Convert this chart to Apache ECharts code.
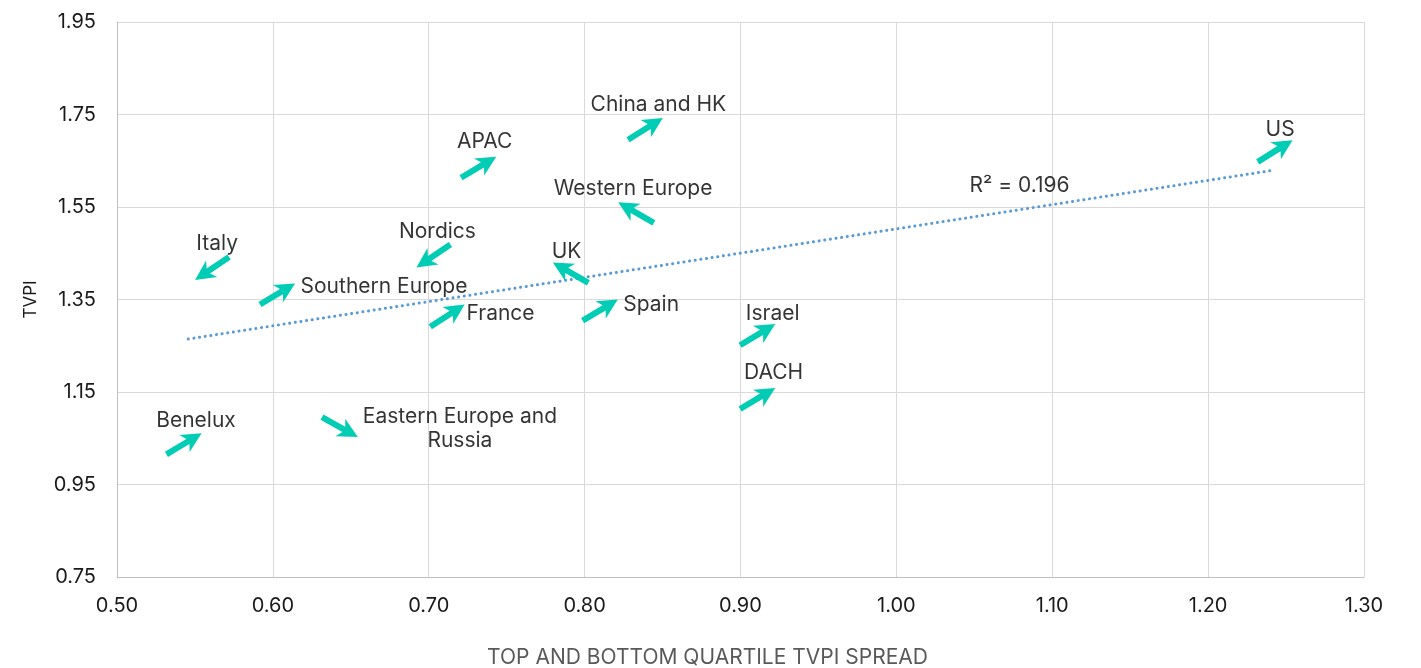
<!DOCTYPE html>
<html><head><meta charset="utf-8">
<script src="https://cdn.jsdelivr.net/npm/echarts@6/dist/echarts.min.js"></script>
<style>html,body{margin:0;padding:0;background:#fff}#c{width:1421px;height:668px}</style>
</head><body><div id="c"></div>
<script>
// ---- data ----
const regions = ['Italy','Nordics','Southern Europe','France','Benelux','Eastern Europe and\nRussia','APAC','China and HK','Western Europe','UK','Spain','Israel','DACH','US'];
const spread  = [0.561, 0.703, 0.603, 0.712, 0.543, 0.643, 0.732, 0.839, 0.833, 0.791, 0.810, 0.911, 0.911, 1.243];
const tvpi    = [1.417, 1.444, 1.362, 1.315, 1.038, 1.074, 1.636, 1.719, 1.538, 1.408, 1.327, 1.274, 1.136, 1.671];
// arrow direction (degrees, counter-clockwise from pointing right)
const arrowAngle = [214, 214, 31, 33, 31, -29, 31, 32, 150, 150, 31, 31, 31, 32];
const trendX = [0.5457, 1.2429];
const trendY = [1.2646, 1.630];
const r2Label = 'R² = 0.196';
const r2At = [1.079, 1.5954];
const xAxisTitle = 'TOP AND BOTTOM QUARTILE TVPI SPREAD';
const yAxisTitle = 'TVPI';

// ---- label placement (style) ----
const labelPlace = {
  'Italy': [5,-25,'center'],
  'Nordics': [4,-24,'center'],
  'Southern Europe': [23,-7,'left'],
  'France': [19,-2,'left'],
  'Benelux': [12,-23,'center'],
  'Eastern Europe and\nRussia': [120,2,'center'],
  'APAC': [6,-26,'center'],
  'China and HK': [13,-24,'center'],
  'Western Europe': [-3,-24,'center'],
  'UK': [-4,-21,'center'],
  'Spain': [23,-5,'left'],
  'Israel': [15,-21,'center'],
  'DACH': [16,-26,'center'],
  'US': [5,-21,'center']
};

const arrowPath = 'path://M0,7 L25,7 L21,0 L41,10 L21,20 L25,13 L0,13 Z';
const teal = '#00CDB4';
const FONT = 'Inter';

const arrowData = regions.map((r,i)=>({
  value:[spread[i], tvpi[i]],
  symbolRotate: arrowAngle[i]
}));
const labelData = regions.map((r,i)=>{
  const p = labelPlace[r];
  return {
    value:[spread[i], tvpi[i]],
    label:{show:true, formatter:r, position:[p[0],p[1]], align:p[2], verticalAlign:'middle'}
  };
});

const chart = echarts.init(document.getElementById('c'));
chart.setOption({
  animation:false,
  grid:{left:117, right:57, top:22, bottom:91, containLabel:false, outerBoundsMode:'none'},
  xAxis:{
    type:'value', min:0.5, max:1.3, interval:0.1,
    name:xAxisTitle, nameLocation:'middle', nameGap:70,
    nameTextStyle:{color:'#595959', fontSize:21, fontFamily:FONT, padding:[0,66,0,0]},
    axisLine:{show:true, lineStyle:{color:'#bfbfbf', width:1}},
    axisTick:{show:false},
    axisLabel:{formatter:v=>v.toFixed(2), color:'#1a1a1a', fontSize:20, fontFamily:FONT, margin:19},
    splitLine:{show:true, lineStyle:{color:'#d9d9d9', width:1}}
  },
  yAxis:{
    type:'value', min:0.75, max:1.95, interval:0.2,
    name:yAxisTitle, nameLocation:'middle', nameGap:78,
    nameTextStyle:{color:'#1a1a1a', fontSize:17, fontFamily:FONT},
    axisLine:{show:true, lineStyle:{color:'#bfbfbf', width:1}},
    axisTick:{show:false},
    axisLabel:{formatter:v=>v.toFixed(2), color:'#1a1a1a', fontSize:20, fontFamily:FONT, margin:21},
    splitLine:{show:true, lineStyle:{color:'#d9d9d9', width:1}}
  },
  series:[
    {
      type:'line', data:trendX.map((x,i)=>[x,trendY[i]]), symbol:'none', z:1,
      lineStyle:{color:'#5b9bd5', width:3, type:[0.1,5.6], cap:'round'}
    },
    {
      type:'scatter', data:arrowData, symbol:arrowPath, symbolSize:[41,20], z:3,
      itemStyle:{color:teal, opacity:1}
    },
    {
      type:'scatter', data:labelData, symbolSize:0, z:4, silent:true,
      label:{color:'#000', fontSize:21, fontFamily:FONT, lineHeight:24}
    },
    {
      type:'scatter', data:[{value:r2At, label:{show:true, formatter:r2Label, position:[0,0], align:'center', verticalAlign:'middle'}}],
      symbolSize:0, z:4, silent:true,
      label:{color:'#000', fontSize:21, fontFamily:FONT}
    }
  ]
});
</script>
</body></html>
